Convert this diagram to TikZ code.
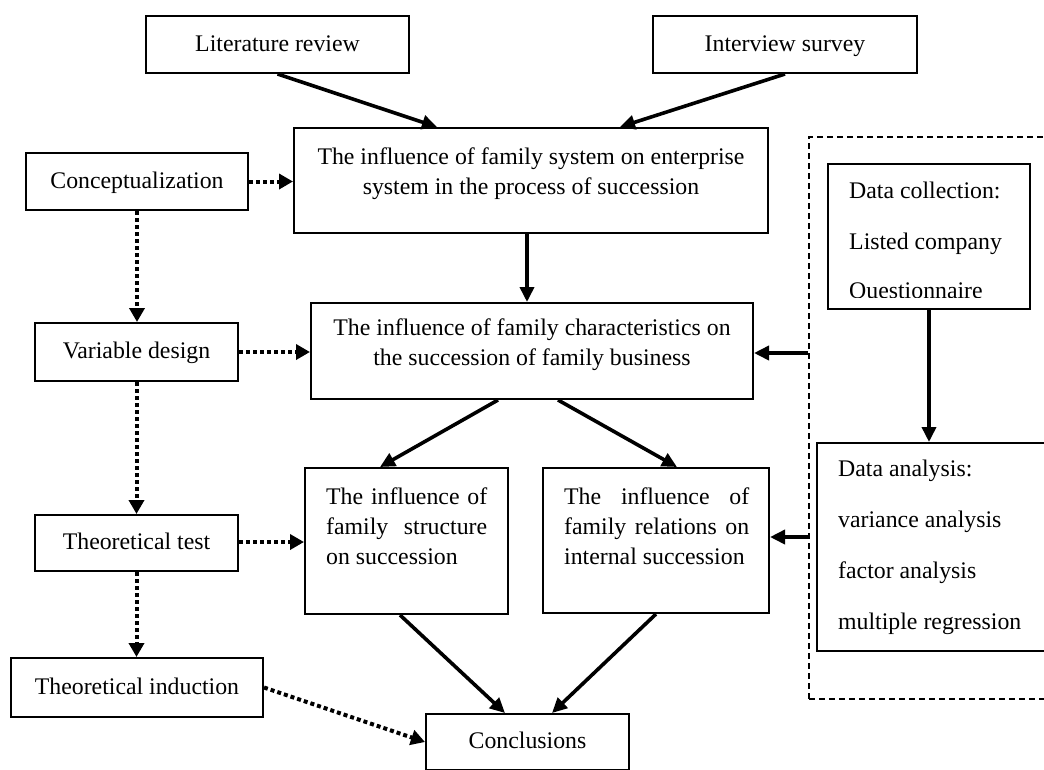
\documentclass[tikz,border=0pt]{standalone}
\usepackage{fontspec}
\setmainfont{Liberation Serif}
\usetikzlibrary{arrows.meta}

\begin{document}
\begin{tikzpicture}[x=1pt,y=-1pt,
  box/.style={draw,line width=2pt,minimum width=#1,inner sep=0pt},
  txt/.style={font={\fontsize{23.8}{30}\selectfont},inner sep=0pt},
  one/.style={txt,text height=17pt,text depth=4pt},
  wide/.style={font={\fontsize{23.8}{51}\selectfont},inner sep=0pt,align=left},
  flow/.style={line width=3.6pt,-{Triangle[length=15pt,width=14pt]}},
  dots/.style={line width=4pt,dash pattern=on 4pt off 3pt,-{Triangle[length=14pt,width=15pt]}},
  group/.style={draw,line width=1.2pt,dash pattern=on 6pt off 4pt,inner sep=0pt}]
\clip (0,0) rectangle (1044,769);

% top sources
\node[box=263pt,minimum height=57pt,one] (lit) at (277.5,44.5) {Literature review};
\node[box=264pt,minimum height=57pt,one] (intv) at (785,44.5) {Interview survey};

% main column
\node[box=474pt,minimum height=105pt] (sys) at (531,180.5) {};
\node[txt,align=center] (systxt) at (531,174) {The influence of family system on enterprise\\system in the process of succession};

\node[box=442pt,minimum height=96pt] (chr) at (532,351) {};
\node[txt,align=center] (chrtxt) at (532,345) {The influence of family characteristics on\\the succession of family business};

\node[box=203pt,minimum height=146pt] (str) at (406.5,541) {};
\node[txt,align=left,anchor=west] (strtxt) at (326,526)
  {\makebox[161pt][s]{The influence of}\\\makebox[161pt][s]{family structure}\\on succession};

\node[box=226pt,minimum height=145pt] (rel) at (656,540.5) {};
\node[txt,align=left,anchor=west] (reltxt) at (564,526)
  {\makebox[185pt][s]{The influence of}\\\makebox[185pt][s]{family relations on}\\internal succession};

\node[box=203pt,minimum height=56pt] (conc) at (527.5,742) {};
\node[one] (conctxt) at (527.5,742) {Conclusions};

% method column
\node[box=222pt,minimum height=57pt,one] (cpt) at (137,181.5) {Conceptualization};
\node[box=203pt,minimum height=58pt,one] (var) at (136.5,352) {Variable design};
\node[box=203pt,minimum height=56pt,one] (tst) at (136.5,543) {Theoretical test};
\node[box=252pt,minimum height=59pt,one] (ind) at (137,687.5) {Theoretical induction};

% data work, grouped in a dashed frame
\node[group,minimum width=251pt,minimum height=562pt] (data) at (934.5,418) {};
\node[box=202pt,minimum height=145pt] (col) at (929,236.5) {};
\node[wide,anchor=west] (coltxt) at (849,218.5) {Data collection:\\Listed company};
\begin{scope}
  \clip (830,270) rectangle (1028,297.5);
  \node[txt,anchor=base west] (qtxt) at (849,298.5) {Questionnaire};
\end{scope}
\node[box=243pt,minimum height=208pt] (ana) at (938.5,547) {};
\node[wide,anchor=west] (anatxt) at (838,547.5)
  {Data analysis:\\variance analysis\\factor analysis\\multiple regression};

% solid flow
\draw[flow] (lit.south) -- (sys.north -| 437,0);
\draw[flow] (intv.south) -- (sys.north -| 620,0);
\draw[flow] (sys.south -| 527,0) -- (chr.north -| 527,0);
\draw[flow] (chr.south -| 498,0) -- (str.north -| 380,0);
\draw[flow] (chr.south -| 558,0) -- (rel.north -| 677,0);
\draw[flow] (str.south -| 400,0) -- (conc.north -| 505,0);
\draw[flow] (rel.south -| 656,0) -- (conc.north -| 552,0);
\draw[flow] (col.south) -- (ana.north -| col.south);
\draw[flow] (data.west |- 0,353) -- (chr.east |- 0,353);
\draw[flow] (data.west |- 0,537) -- (rel.east |- 0,537);

% dotted method links
\draw[dots] (cpt.east) -- (sys.west |- cpt.east);
\draw[dots] (cpt.south) -- (var.north -| cpt.south);
\draw[dots] (var.east) -- (chr.west |- var.east);
\draw[dots] (var.south) -- (tst.north);
\draw[dots] (tst.east |- 0,542) -- (str.west |- 0,542);
\draw[dots] (tst.south) -- (ind.north -| tst.south);
\draw[dots] (ind.east) -- (conc.west);
\end{tikzpicture}
\end{document}
